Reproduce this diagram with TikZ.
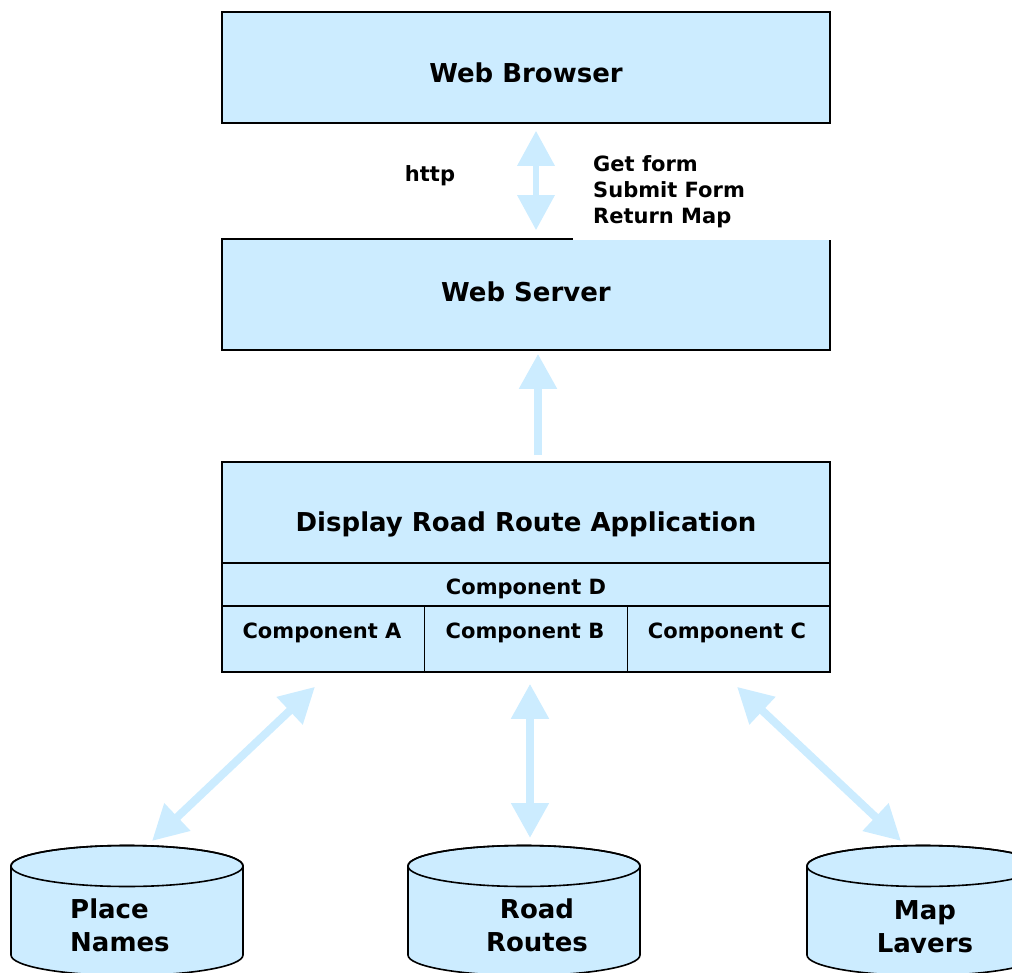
\documentclass[tikz,border=0pt]{standalone}
\usepackage{fontspec}
\setmainfont{DejaVu Sans}
\usetikzlibrary{arrows.meta}
\definecolor{lb}{HTML}{CCECFF}
\tikzset{
  lbl/.style={font=\bfseries\fontsize{26}{33}\selectfont, inner sep=0pt},
  sml/.style={font=\bfseries\fontsize{21}{26}\selectfont, inner sep=0pt},
  cell/.style={draw=black, line width=1.6pt, fill=lb, inner sep=0pt},
  arr/.style={draw=lb, line width=8pt},
  >={Triangle[length=35pt,width=36pt]},
  db/.pic={
    \path[fill=lb, draw=black, line width=1.6pt] (-116,0) -- (-116,-89)
      arc[start angle=180, end angle=360, x radius=116, y radius=20.5]
      -- (116,0) arc[start angle=0, end angle=180, x radius=116, y radius=20.5] -- cycle;
    \draw[line width=1.6pt] (0,0) ellipse [x radius=116, y radius=20.5];
  }
}
\begin{document}
\begin{tikzpicture}[x=1pt,y=1pt]
\useasboundingbox (0,0) rectangle (1012,-973);
\clip (0,0) rectangle (1012,-973);

% top boxes
\node[cell, minimum width=608pt, minimum height=111pt] (browser) at (526,-67.5) {};
\node[lbl] (browserT) at (526,-73) {Web Browser};
\node[cell, minimum width=608pt, minimum height=111pt] (server) at (526,-294.5) {};
\node[lbl] (serverT) at (526,-291.5) {Web Server};
\fill[white] (573,-145) rectangle (832,-240.3);
\node[sml, anchor=west, align=left] (calls) at (593,-192) {Get form\\Submit Form\\Return Map};
\node[sml] (http) at (430,-176) {http};

% application block
\node[cell, minimum width=608pt, minimum height=101pt] (app) at (526,-512.5) {};
\node[lbl] (appT) at (526,-524) {Display Road Route Application};
\node[cell, minimum width=608pt, minimum height=43pt] (compD) at (526,-584.5) {};
\node[sml] (compDT) at (526,-589) {Component D};
\node[cell, minimum width=202.67pt, minimum height=66pt] (compA) at (323.33,-639) {};
\node[cell, minimum width=202.67pt, minimum height=66pt] (compB) at (526,-639) {};
\node[cell, minimum width=202.67pt, minimum height=66pt] (compC) at (728.67,-639) {};
\node[sml] (compAT) at (322,-633) {Component A};
\node[sml] (compBT) at (525,-633) {Component B};
\node[sml] (compCT) at (727,-633) {Component C};

% databases
\pic at (127,-866) {db};
\pic at (524,-866) {db};
\pic at (923,-866) {db};
\node[lbl, align=left, anchor=north west] (placeT) at (70,-899) {Place\\Names};
\node[lbl, align=center, anchor=north] (roadT) at (537,-899) {Road\\Routes};
\begin{scope}
\clip (800,-840) rectangle (1012,-952);
\node[lbl, align=center, anchor=north] (mapT) at (925,-900) {Map\\Layers};
\end{scope}
\coordinate (placeTop) at (152,-841);
\coordinate (roadTop) at (530,-838);
\coordinate (mapTop) at (901,-841);

% connectors
\draw[arr, line width=6.5pt, <->] ([xshift=10pt,yshift=-7pt]browser.south) -- ([xshift=10pt,yshift=8pt]server.north);
\draw[arr, ->] ([xshift=12pt,yshift=6pt]app.north) -- ([xshift=12pt,yshift=-3pt]server.south);
\draw[arr, <->] ([xshift=-8.33pt,yshift=-14pt]compA.south) -- (placeTop);
\draw[arr, <->] ([xshift=4pt,yshift=-11pt]compB.south) -- (roadTop);
\draw[arr, <->] ([xshift=8.33pt,yshift=-14pt]compC.south) -- (mapTop);
\end{tikzpicture}
\end{document}
